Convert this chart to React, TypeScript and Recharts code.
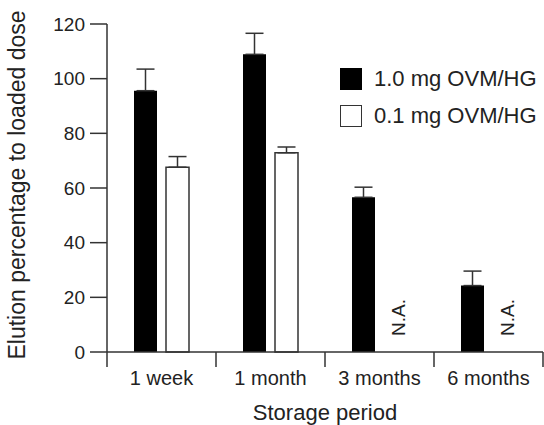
import { BarChart, Bar, XAxis, YAxis, ErrorBar, LabelList, Legend, Label } from "recharts";

const periods = ["1 week", "1 month", "3 months", "6 months"];
const highDose = [95.6, 108.9, 56.6, 24.3];
const highDoseErr = [7.9, 7.7, 3.7, 5.3];
const lowDose = [67.6, 72.9, null, null];
const lowDoseErr = [3.9, 2.1, null, null];
const yTicks = [0, 20, 40, 60, 80, 100, 120];
const seriesNames = ["1.0 mg OVM/HG", "0.1 mg OVM/HG"];

const chartData = periods.map((period, i) => ({
  period,
  high: highDose[i],
  highErr: [0, highDoseErr[i]],
  low: lowDose[i],
  lowErr: lowDoseErr[i] == null ? null : [0, lowDoseErr[i]],
}));

const INK = "#222";
const BAR_SIZE = 23;
const BAR_GAP = 9;

// tick label in the middle, tick marks on the band edges
const PeriodTick = (props: any) => {
  const { x, y, payload, index, width, visibleTicksCount } = props;
  const half = width / (visibleTicksCount || periods.length) / 2;
  return (
    <g>
      <line x1={x - half} y1={y} x2={x - half} y2={y + 15} stroke="#333" strokeWidth={1.5} />
      {index === periods.length - 1 && (
        <line x1={x + half} y1={y} x2={x + half} y2={y + 15} stroke="#333" strokeWidth={1.5} />
      )}
      <text x={x} y={y + 33} textAnchor="middle" fill={INK} fontSize={20}>
        {payload.value}
      </text>
    </g>
  );
};

const YTitle = ({ viewBox }: any) => {
  const cx = viewBox.x + 17;
  const cy = viewBox.y + viewBox.height / 2 - 3;
  return (
    <text
      x={cx}
      y={cy}
      transform={`rotate(-90 ${cx} ${cy})`}
      textAnchor="middle"
      dominantBaseline="central"
      fill={INK}
      fontSize={23}
    >
      Elution percentage to loaded dose
    </text>
  );
};

const XTitle = ({ viewBox }: any) => (
  <text x={viewBox.x + viewBox.width / 2} y={viewBox.y + 68} textAnchor="middle" fill={INK} fontSize={22}>
    Storage period
  </text>
);

// N.A. marker where the low-dose bar is missing
const NotAvailable = (props: any) => {
  const { x, y, width, height, index } = props;
  if (lowDose[index] != null) return null;
  const cx = x + width + BAR_GAP + BAR_SIZE / 2 + 3;
  const cy = y + height - 16;
  return (
    <text
      x={cx}
      y={cy}
      transform={`rotate(-90 ${cx} ${cy})`}
      dominantBaseline="central"
      fill={INK}
      fontSize={19}
    >
      N.A.
    </text>
  );
};

const renderLegend = () => (
  <div style={{ fontSize: 22, color: INK }}>
    {seriesNames.map((name, i) => (
      <div key={name} style={{ display: "flex", alignItems: "center", height: 37 }}>
        <div
          style={{
            width: 22,
            height: 22,
            boxSizing: "border-box",
            background: i === 0 ? "#000" : "#fff",
            border: i === 0 ? "none" : "1.5px solid #333",
            marginRight: 12,
          }}
        />
        <span>{name}</span>
      </div>
    ))}
  </div>
);

export default function App() {
  return (
    <div style={{ position: "absolute", left: 0, top: 0, fontFamily: "'Liberation Sans', Arial, sans-serif" }}>
      <BarChart
        width={544}
        height={425}
        data={chartData}
        margin={{ top: 24, right: 1, bottom: 0, left: 0 }}
        barSize={BAR_SIZE}
        barGap={BAR_GAP}
      >
        <XAxis
          dataKey="period"
          height={73}
          tickLine={false}
          tickSize={0}
          tickMargin={0}
          axisLine={{ stroke: "#333", strokeWidth: 1.5 }}
          tick={<PeriodTick />}
          interval={0}
        >
          <Label content={XTitle} />
        </XAxis>
        <YAxis
          width={107}
          domain={[0, 120]}
          ticks={yTicks}
          tickSize={17}
          tickMargin={5}
          axisLine={{ stroke: "#333", strokeWidth: 1.5 }}
          tickLine={{ stroke: "#333", strokeWidth: 1.5 }}
          tick={{ fill: INK, fontSize: 19 }}
        >
          <Label content={YTitle} />
        </YAxis>
        <Legend
          content={renderLegend}
          layout="vertical"
          align="center"
          verticalAlign="middle"
          wrapperStyle={{ top: 60, left: 340, width: 204 }}
        />
        <Bar dataKey="high" name={seriesNames[0]} fill="#000" isAnimationActive={false}>
          <ErrorBar dataKey="highErr" width={9} stroke="#333" strokeWidth={1.5} direction="y" />
          <LabelList content={NotAvailable} />
        </Bar>
        <Bar dataKey="low" name={seriesNames[1]} fill="#fff" stroke="#333" strokeWidth={1.5} isAnimationActive={false}>
          <ErrorBar dataKey="lowErr" width={9} stroke="#333" strokeWidth={1.5} direction="y" />
        </Bar>
      </BarChart>
    </div>
  );
}
